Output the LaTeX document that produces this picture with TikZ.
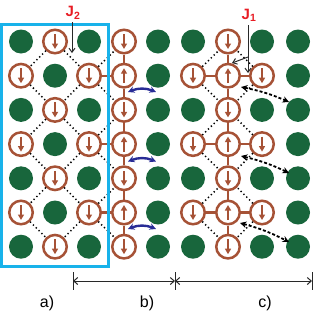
\documentclass[tikz,border=0pt]{standalone}
\usepackage{fontspec}
\setmainfont{Liberation Sans}
\usetikzlibrary{arrows.meta}
\definecolor{sgreen}{RGB}{24,102,60}
\definecolor{sbrown}{RGB}{166,82,54}
\definecolor{scyan}{RGB}{24,178,234}
\definecolor{sblue}{RGB}{40,44,150}
\definecolor{sred}{RGB}{232,28,36}
\definecolor{sgray}{RGB}{40,40,40}
\begin{document}
\begin{tikzpicture}[x=1pt,y=-1pt,
  site/.style={circle,fill=sgreen,minimum size=24pt,inner sep=0pt},
  ring/.style={circle,draw=sbrown,line width=2.5pt,minimum size=23.5pt,inner sep=0pt},
  spin/.style={draw=sbrown,line width=1.8pt,-{Triangle[length=5.5pt,width=6pt]}},
  bond/.style={draw=sbrown,line width=2.4pt},
  dotl/.style={draw=black,line width=1.5pt,dash pattern=on 1.3pt off 2.7pt},
  bluearr/.style={draw=sblue,line width=2.4pt,{Stealth[length=6.5pt,width=6.5pt]}-{Stealth[length=6.5pt,width=6.5pt]}},
  dasharr/.style={draw=black,line width=1.8pt,dash pattern=on 3pt off 2pt,{Stealth[length=6.5pt,width=6.5pt]}-{Stealth[length=6.5pt,width=6.5pt]}},
  jarr/.style={draw=sgray,line width=1pt,-{Straight Barb[length=4pt,width=6pt]}},
  dimline/.style={draw=sgray,line width=1pt},
  dimarr/.style={draw=sgray,line width=1pt,{Straight Barb[length=4pt,width=7pt]}-{Straight Barb[length=4pt,width=7pt]}},
  jlab/.style={text=sred,font=\fontsize{15}{17}\selectfont\bfseries,inner sep=0pt},
  plab/.style={font=\fontsize{16}{18}\selectfont,inner sep=0pt}]
\useasboundingbox (0,0) rectangle (315,314);
% green sites
\foreach \c/\x in {0/21,2/89,5/193,7/262}
  \foreach \r/\y in {0/41.5,2/109.9,4/178.3,6/246.7}
    \node[site] (n-\c-\r) at (\x,\y) {};
\foreach \c/\x in {1/55}
  \foreach \r/\y in {1/75.7,3/144.1,5/212.5}
    \node[site] (n-\c-\r) at (\x,\y) {};
\foreach \c/\x in {4/158,8/298}
  \foreach \r/\y in {0/41.5,1/75.7,2/109.9,3/144.1,4/178.3,5/212.5,6/246.7}
    \node[site] (n-\c-\r) at (\x,\y) {};
% down spins
\foreach \c/\x in {0/21,2/89,5/193,7/262}
  \foreach \r/\y in {1/75.7,3/144.1,5/212.5}
    {\node[ring] (n-\c-\r) at (\x,\y) {};
     \draw[spin] (n-\c-\r.center) ++(0,-7.5) -- ++(0,15);}
\foreach \c/\x in {1/55,3/124,6/228}
  \foreach \r/\y in {0/41.5,2/109.9,4/178.3,6/246.7}
    {\node[ring] (n-\c-\r) at (\x,\y) {};
     \draw[spin] (n-\c-\r.center) ++(0,-7.5) -- ++(0,15);}
% up spins
\foreach \c/\x in {3/124,6/228}
  \foreach \r/\y in {1/75.7,3/144.1,5/212.5}
    {\node[ring] (n-\c-\r) at (\x,\y) {};
     \draw[spin] (n-\c-\r.center) ++(0,7.5) -- ++(0,-15);}
% dotted J2 couplings
\foreach \a/\b in {1-0/0-1,1-0/2-1,0-1/1-2,2-1/1-2,1-2/0-3,1-2/2-3,0-3/1-4,2-3/1-4,
  1-4/0-5,1-4/2-5,0-5/1-6,2-5/1-6,2-1/3-0,2-1/3-2,2-3/3-2,2-3/3-4,2-5/3-4,2-5/3-6,
  5-1/6-0,5-1/6-2,7-1/6-0,7-1/6-2,5-3/6-2,5-3/6-4,7-3/6-2,7-3/6-4,
  5-5/6-4,5-5/6-6,7-5/6-4,7-5/6-6}
  \draw[dotl] (n-\a) -- (n-\b);
% bonds
\foreach \r [evaluate=\r as \s using int(\r+1)] in {0,...,5}
  {\draw[bond] (n-3-\r) -- (n-3-\s);
   \draw[bond] (n-6-\r) -- (n-6-\s);}
\foreach \r in {1,3,5}
  {\draw[bond] (n-2-\r) -- (n-3-\r);
   \draw[bond] (n-5-\r) -- (n-6-\r);
   \draw[bond] (n-6-\r) -- (n-7-\r);}
% blue frame
\draw[scyan,line width=3pt] (1.5,24) rectangle (108,266.5);
% blue double arrows
\foreach \i/\y in {1/92,2/161.5,3/229}
  {\coordinate (ba\i) at (128,\y);
   \coordinate (bb\i) at (156,\y);
   \draw[bluearr] (ba\i) to[bend left=22] (bb\i);}
% dashed double arrows
\coordinate (da1) at (241,87);  \coordinate (db1) at (289,102);
\coordinate (da2) at (241,156); \coordinate (db2) at (289,173);
\coordinate (da3) at (240,223); \coordinate (db3) at (289,242);
\foreach \i in {1,2,3}
  \draw[dasharr] (da\i) to[bend left=6] (db\i);
% J labels and arrows
\node[jlab] (J2) at (73,13) {J\textsubscript{2}};
\coordinate (j2s) at (72,22);
\coordinate (j2e) at (72,53);
\draw[jarr] (j2s) -- (j2e);
\node[jlab] (J1) at (249,15) {J\textsubscript{1}};
\coordinate (j1s) at (248,25);
\coordinate (j1e) at (248,73);
\coordinate (j1m) at (248,57);
\coordinate (j1f) at (232,63);
\draw[jarr] (j1s) -- (j1e);
\draw[jarr] (j1m) -- (j1f);
% dimension lines
\foreach \i/\x in {1/73,2/175,3/312}
  {\coordinate (tt\i) at (\x,272);
   \coordinate (tb\i) at (\x,290);
   \coordinate (tm\i) at (\x,281);
   \draw[dimline] (tt\i) -- (tb\i);}
\draw[dimarr] (tm1) -- (tm2);
\draw[dimarr] (tm2) -- (tm3);
\node[plab] (la) at (47,303) {a)};
\node[plab] (lb) at (147,303) {b)};
\node[plab] (lc) at (265,303) {c)};
\end{tikzpicture}
\end{document}
